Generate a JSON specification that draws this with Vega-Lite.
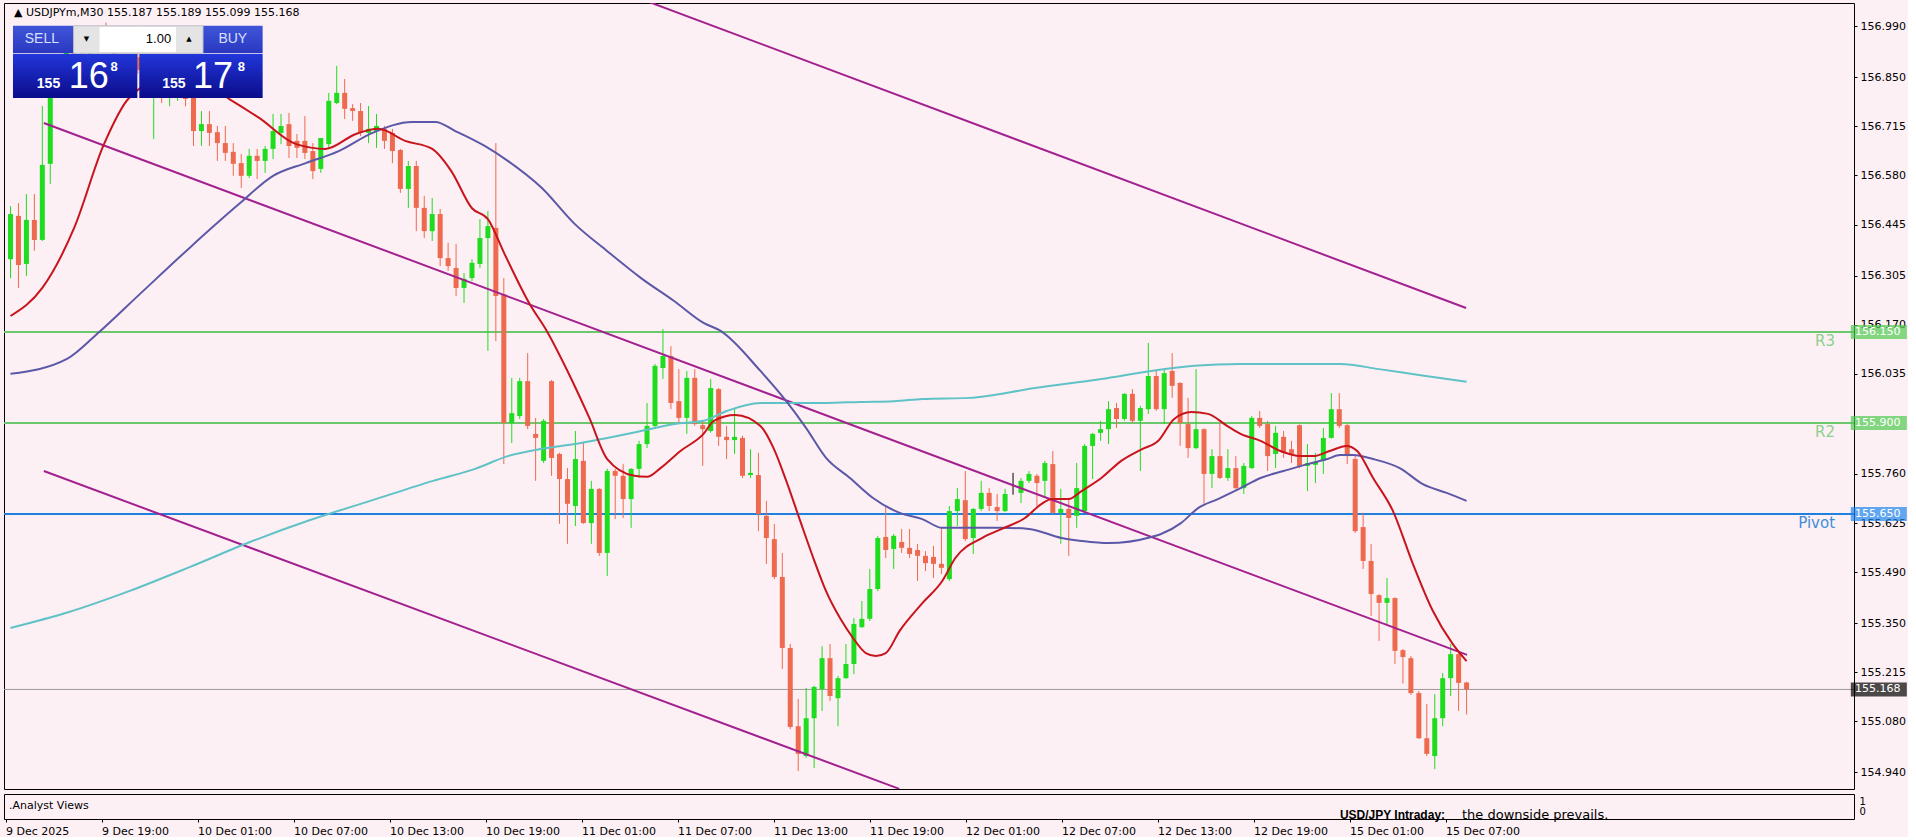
{
"$schema":"https://vega.github.io/schema/vega-lite/v6.json",
"background":"#FDF0F5",
"padding":{"left":2,"top":2,"right":0,"bottom":0},
"config":{"view":{"stroke":"#000000","strokeWidth":1,"fill":"#FDF0F5"},"bar":{"continuousBandSize":5},
"axis":{"labelFont":"DejaVu Sans","labelFontSize":11,"labelColor":"#000000","tickColor":"#000000","grid":false,"domain":false,"title":null}},
"datasets":{
"candles":[
{"i":0,"o":156.350,"h":156.496,"l":156.298,"c":156.474},
{"i":1,"o":156.469,"h":156.504,"l":156.271,"c":156.334},
{"i":2,"o":156.337,"h":156.529,"l":156.304,"c":156.458},
{"i":3,"o":156.458,"h":156.529,"l":156.373,"c":156.403},
{"i":4,"o":156.403,"h":156.771,"l":156.400,"c":156.609},
{"i":5,"o":156.612,"h":156.860,"l":156.557,"c":156.826},
{"i":6,"o":156.826,"h":156.900,"l":156.800,"c":156.880},
{"i":7,"o":156.880,"h":156.960,"l":156.860,"c":156.940},
{"i":8,"o":156.940,"h":156.990,"l":156.900,"c":156.915},
{"i":9,"o":156.915,"h":156.950,"l":156.870,"c":156.885},
{"i":10,"o":156.885,"h":156.935,"l":156.860,"c":156.920},
{"i":11,"o":156.920,"h":156.985,"l":156.905,"c":156.965},
{"i":12,"o":156.965,"h":157.000,"l":156.930,"c":156.945},
{"i":13,"o":156.945,"h":156.970,"l":156.890,"c":156.900},
{"i":14,"o":156.900,"h":156.935,"l":156.860,"c":156.875},
{"i":15,"o":156.875,"h":156.920,"l":156.850,"c":156.905},
{"i":16,"o":156.905,"h":156.930,"l":156.860,"c":156.870},
{"i":17,"o":156.870,"h":156.900,"l":156.800,"c":156.815},
{"i":18,"o":156.815,"h":156.860,"l":156.680,"c":156.840},
{"i":19,"o":156.840,"h":156.880,"l":156.779,"c":156.800},
{"i":20,"o":156.800,"h":156.850,"l":156.770,"c":156.830},
{"i":21,"o":156.830,"h":156.870,"l":156.785,"c":156.850},
{"i":22,"o":156.850,"h":156.870,"l":156.770,"c":156.790},
{"i":23,"o":156.800,"h":156.830,"l":156.661,"c":156.702},
{"i":24,"o":156.702,"h":156.757,"l":156.661,"c":156.721},
{"i":25,"o":156.721,"h":156.757,"l":156.661,"c":156.697},
{"i":26,"o":156.699,"h":156.716,"l":156.620,"c":156.669},
{"i":27,"o":156.669,"h":156.716,"l":156.620,"c":156.642},
{"i":28,"o":156.645,"h":156.669,"l":156.579,"c":156.612},
{"i":29,"o":156.614,"h":156.639,"l":156.546,"c":156.579},
{"i":30,"o":156.579,"h":156.653,"l":156.573,"c":156.634},
{"i":31,"o":156.634,"h":156.653,"l":156.570,"c":156.620},
{"i":32,"o":156.620,"h":156.661,"l":156.587,"c":156.653},
{"i":33,"o":156.653,"h":156.749,"l":156.625,"c":156.702},
{"i":34,"o":156.697,"h":156.749,"l":156.666,"c":156.716},
{"i":35,"o":156.721,"h":156.752,"l":156.628,"c":156.661},
{"i":36,"o":156.675,"h":156.694,"l":156.628,"c":156.656},
{"i":37,"o":156.675,"h":156.743,"l":156.625,"c":156.642},
{"i":38,"o":156.647,"h":156.669,"l":156.570,"c":156.592},
{"i":39,"o":156.598,"h":156.683,"l":156.587,"c":156.683},
{"i":40,"o":156.666,"h":156.807,"l":156.656,"c":156.785},
{"i":41,"o":156.779,"h":156.881,"l":156.776,"c":156.807},
{"i":42,"o":156.807,"h":156.845,"l":156.735,"c":156.763},
{"i":43,"o":156.765,"h":156.776,"l":156.730,"c":156.757},
{"i":44,"o":156.757,"h":156.779,"l":156.688,"c":156.697},
{"i":45,"o":156.697,"h":156.771,"l":156.669,"c":156.708},
{"i":46,"o":156.702,"h":156.749,"l":156.656,"c":156.716},
{"i":47,"o":156.708,"h":156.716,"l":156.653,"c":156.675},
{"i":48,"o":156.697,"h":156.708,"l":156.614,"c":156.647},
{"i":49,"o":156.650,"h":156.653,"l":156.532,"c":156.543},
{"i":50,"o":156.543,"h":156.620,"l":156.491,"c":156.606},
{"i":51,"o":156.606,"h":156.620,"l":156.427,"c":156.491},
{"i":52,"o":156.491,"h":156.524,"l":156.408,"c":156.427},
{"i":53,"o":156.427,"h":156.518,"l":156.400,"c":156.474},
{"i":54,"o":156.474,"h":156.488,"l":156.331,"c":156.353},
{"i":55,"o":156.353,"h":156.395,"l":156.318,"c":156.331},
{"i":56,"o":156.326,"h":156.392,"l":156.249,"c":156.271},
{"i":57,"o":156.271,"h":156.312,"l":156.230,"c":156.296},
{"i":58,"o":156.298,"h":156.350,"l":156.290,"c":156.340},
{"i":59,"o":156.337,"h":156.460,"l":156.326,"c":156.408},
{"i":60,"o":156.408,"h":156.482,"l":156.098,"c":156.441},
{"i":61,"o":156.436,"h":156.669,"l":156.125,"c":156.249},
{"i":62,"o":156.254,"h":156.298,"l":155.787,"c":155.900},
{"i":63,"o":155.900,"h":156.024,"l":155.845,"c":155.927},
{"i":64,"o":155.919,"h":156.024,"l":155.911,"c":156.015},
{"i":65,"o":156.015,"h":156.092,"l":155.883,"c":155.892},
{"i":66,"o":155.870,"h":155.914,"l":155.741,"c":155.859},
{"i":67,"o":155.796,"h":155.911,"l":155.790,"c":155.906},
{"i":68,"o":156.015,"h":156.018,"l":155.755,"c":155.804},
{"i":69,"o":155.815,"h":155.818,"l":155.623,"c":155.746},
{"i":70,"o":155.746,"h":155.776,"l":155.568,"c":155.678},
{"i":71,"o":155.672,"h":155.878,"l":155.617,"c":155.801},
{"i":72,"o":155.796,"h":155.845,"l":155.623,"c":155.625},
{"i":73,"o":155.625,"h":155.741,"l":155.568,"c":155.719},
{"i":74,"o":155.719,"h":155.721,"l":155.535,"c":155.543},
{"i":75,"o":155.543,"h":155.774,"l":155.480,"c":155.768},
{"i":76,"o":155.768,"h":155.774,"l":155.636,"c":155.755},
{"i":77,"o":155.755,"h":155.787,"l":155.639,"c":155.691},
{"i":78,"o":155.691,"h":155.776,"l":155.612,"c":155.774},
{"i":79,"o":155.774,"h":155.851,"l":155.749,"c":155.842},
{"i":80,"o":155.842,"h":155.955,"l":155.831,"c":155.892},
{"i":81,"o":155.892,"h":156.062,"l":155.886,"c":156.057},
{"i":82,"o":156.051,"h":156.158,"l":156.021,"c":156.084},
{"i":83,"o":156.084,"h":156.111,"l":155.938,"c":155.955},
{"i":84,"o":155.960,"h":156.048,"l":155.900,"c":155.914},
{"i":85,"o":155.914,"h":156.043,"l":155.870,"c":156.024},
{"i":86,"o":156.024,"h":156.048,"l":155.892,"c":155.897},
{"i":87,"o":155.894,"h":155.906,"l":155.782,"c":155.883},
{"i":88,"o":155.878,"h":156.021,"l":155.873,"c":155.996},
{"i":89,"o":155.993,"h":155.996,"l":155.837,"c":155.862},
{"i":90,"o":155.862,"h":155.892,"l":155.801,"c":155.853},
{"i":91,"o":155.853,"h":155.941,"l":155.815,"c":155.862},
{"i":92,"o":155.859,"h":155.865,"l":155.749,"c":155.755},
{"i":93,"o":155.757,"h":155.828,"l":155.749,"c":155.763},
{"i":94,"o":155.757,"h":155.818,"l":155.603,"c":155.650},
{"i":95,"o":155.645,"h":155.686,"l":155.513,"c":155.584},
{"i":96,"o":155.581,"h":155.623,"l":155.471,"c":155.477},
{"i":97,"o":155.477,"h":155.543,"l":155.224,"c":155.282},
{"i":98,"o":155.282,"h":155.293,"l":155.059,"c":155.065},
{"i":99,"o":155.067,"h":155.142,"l":154.944,"c":154.991},
{"i":100,"o":154.985,"h":155.172,"l":154.980,"c":155.089},
{"i":101,"o":155.089,"h":155.178,"l":154.952,"c":155.175},
{"i":102,"o":155.169,"h":155.287,"l":155.109,"c":155.254},
{"i":103,"o":155.254,"h":155.293,"l":155.136,"c":155.150},
{"i":104,"o":155.144,"h":155.205,"l":155.067,"c":155.199},
{"i":105,"o":155.199,"h":155.293,"l":155.197,"c":155.238},
{"i":106,"o":155.238,"h":155.364,"l":155.210,"c":155.348},
{"i":107,"o":155.339,"h":155.411,"l":155.337,"c":155.362},
{"i":108,"o":155.362,"h":155.499,"l":155.356,"c":155.444},
{"i":109,"o":155.444,"h":155.590,"l":155.438,"c":155.584},
{"i":110,"o":155.587,"h":155.672,"l":155.529,"c":155.551},
{"i":111,"o":155.554,"h":155.595,"l":155.499,"c":155.590},
{"i":112,"o":155.573,"h":155.609,"l":155.543,"c":155.557},
{"i":113,"o":155.557,"h":155.609,"l":155.529,"c":155.540},
{"i":114,"o":155.551,"h":155.568,"l":155.466,"c":155.535},
{"i":115,"o":155.535,"h":155.548,"l":155.493,"c":155.515},
{"i":116,"o":155.532,"h":155.562,"l":155.474,"c":155.513},
{"i":117,"o":155.513,"h":155.612,"l":155.485,"c":155.502},
{"i":118,"o":155.471,"h":155.672,"l":155.466,"c":155.658},
{"i":119,"o":155.658,"h":155.721,"l":155.617,"c":155.691},
{"i":120,"o":155.688,"h":155.768,"l":155.576,"c":155.581},
{"i":121,"o":155.584,"h":155.666,"l":155.540,"c":155.664},
{"i":122,"o":155.664,"h":155.741,"l":155.658,"c":155.708},
{"i":123,"o":155.708,"h":155.721,"l":155.658,"c":155.672},
{"i":124,"o":155.669,"h":155.705,"l":155.631,"c":155.658},
{"i":125,"o":155.658,"h":155.719,"l":155.655,"c":155.705},
{"i":126,"o":155.705,"h":155.763,"l":155.703,"c":155.705},
{"i":127,"o":155.708,"h":155.749,"l":155.680,"c":155.741},
{"i":128,"o":155.741,"h":155.768,"l":155.735,"c":155.760},
{"i":129,"o":155.755,"h":155.760,"l":155.666,"c":155.735},
{"i":130,"o":155.741,"h":155.796,"l":155.694,"c":155.790},
{"i":131,"o":155.787,"h":155.823,"l":155.650,"c":155.653},
{"i":132,"o":155.653,"h":155.719,"l":155.568,"c":155.664},
{"i":133,"o":155.664,"h":155.694,"l":155.535,"c":155.639},
{"i":134,"o":155.645,"h":155.790,"l":155.612,"c":155.721},
{"i":135,"o":155.658,"h":155.842,"l":155.653,"c":155.837},
{"i":136,"o":155.837,"h":155.873,"l":155.746,"c":155.870},
{"i":137,"o":155.873,"h":155.906,"l":155.851,"c":155.883},
{"i":138,"o":155.883,"h":155.960,"l":155.842,"c":155.938},
{"i":139,"o":155.941,"h":155.955,"l":155.886,"c":155.911},
{"i":140,"o":155.911,"h":155.982,"l":155.906,"c":155.980},
{"i":141,"o":155.980,"h":155.993,"l":155.900,"c":155.906},
{"i":142,"o":155.906,"h":155.947,"l":155.768,"c":155.941},
{"i":143,"o":155.938,"h":156.120,"l":155.925,"c":156.029},
{"i":144,"o":156.029,"h":156.043,"l":155.933,"c":155.938},
{"i":145,"o":155.938,"h":156.048,"l":155.897,"c":156.037},
{"i":146,"o":156.043,"h":156.092,"l":155.969,"c":156.002},
{"i":147,"o":156.010,"h":156.012,"l":155.837,"c":155.900},
{"i":148,"o":155.897,"h":155.969,"l":155.804,"c":155.831},
{"i":149,"o":155.831,"h":156.048,"l":155.828,"c":155.883},
{"i":150,"o":155.883,"h":155.885,"l":155.678,"c":155.760},
{"i":151,"o":155.760,"h":155.828,"l":155.721,"c":155.809},
{"i":152,"o":155.809,"h":155.900,"l":155.746,"c":155.749},
{"i":153,"o":155.749,"h":155.828,"l":155.741,"c":155.776},
{"i":154,"o":155.776,"h":155.809,"l":155.719,"c":155.721},
{"i":155,"o":155.721,"h":155.790,"l":155.705,"c":155.782},
{"i":156,"o":155.776,"h":155.919,"l":155.774,"c":155.914},
{"i":157,"o":155.914,"h":155.933,"l":155.886,"c":155.892},
{"i":158,"o":155.897,"h":155.906,"l":155.768,"c":155.809},
{"i":159,"o":155.815,"h":155.892,"l":155.776,"c":155.873},
{"i":160,"o":155.862,"h":155.878,"l":155.804,"c":155.818},
{"i":161,"o":155.828,"h":155.851,"l":155.790,"c":155.815},
{"i":162,"o":155.894,"h":155.896,"l":155.776,"c":155.782},
{"i":163,"o":155.782,"h":155.842,"l":155.713,"c":155.790},
{"i":164,"o":155.785,"h":155.818,"l":155.735,"c":155.793},
{"i":165,"o":155.796,"h":155.886,"l":155.760,"c":155.859},
{"i":166,"o":155.859,"h":155.982,"l":155.857,"c":155.938},
{"i":167,"o":155.938,"h":155.982,"l":155.886,"c":155.892},
{"i":168,"o":155.894,"h":155.897,"l":155.787,"c":155.809},
{"i":169,"o":155.801,"h":155.809,"l":155.598,"c":155.603},
{"i":170,"o":155.614,"h":155.653,"l":155.499,"c":155.521},
{"i":171,"o":155.521,"h":155.568,"l":155.370,"c":155.430},
{"i":172,"o":155.427,"h":155.430,"l":155.301,"c":155.406},
{"i":173,"o":155.406,"h":155.474,"l":155.348,"c":155.419},
{"i":174,"o":155.419,"h":155.421,"l":155.238,"c":155.274},
{"i":175,"o":155.276,"h":155.279,"l":155.184,"c":155.257},
{"i":176,"o":155.254,"h":155.260,"l":155.153,"c":155.158},
{"i":177,"o":155.158,"h":155.164,"l":155.032,"c":155.034},
{"i":178,"o":155.034,"h":155.128,"l":154.985,"c":154.991},
{"i":179,"o":154.985,"h":155.155,"l":154.949,"c":155.089},
{"i":180,"o":155.089,"h":155.213,"l":155.067,"c":155.199},
{"i":181,"o":155.199,"h":155.293,"l":155.150,"c":155.265},
{"i":182,"o":155.265,"h":155.268,"l":155.109,"c":155.186},
{"i":183,"o":155.187,"h":155.189,"l":155.099,"c":155.168}
],
"ma":[
{"s":"f","i":0,"v":156.194},{"s":"f","i":4,"v":156.271},{"s":"f","i":8,"v":156.436},{"s":"f","i":11.75,"v":156.666},{"s":"f","i":14.9,"v":156.793},{"s":"f","i":19.5,"v":156.845},{"s":"f","i":23.5,"v":156.840},{"s":"f","i":27.5,"v":156.790},{"s":"f","i":31.25,"v":156.738},{"s":"f","i":35.9,"v":156.666},{"s":"f","i":39.6,"v":156.653},{"s":"f","i":43.4,"v":156.694},{"s":"f","i":46.25,"v":156.708},{"s":"f","i":49.6,"v":156.675},{"s":"f","i":53,"v":156.653},{"s":"f","i":55.4,"v":156.592},{"s":"f","i":58,"v":156.490},{"s":"f","i":60,"v":156.460},{"s":"f","i":62.1,"v":156.364},{"s":"f","i":65.25,"v":156.227},{"s":"f","i":67.4,"v":156.153},{"s":"f","i":70,"v":156.043},{"s":"f","i":72.75,"v":155.914},{"s":"f","i":75,"v":155.801},{"s":"f","i":78.4,"v":155.755},{"s":"f","i":80,"v":155.752},{"s":"f","i":81.7,"v":155.776},{"s":"f","i":84.2,"v":155.823},{"s":"f","i":87.1,"v":155.870},{"s":"f","i":88.4,"v":155.906},{"s":"f","i":91.1,"v":155.922},{"s":"f","i":94.25,"v":155.892},{"s":"f","i":95.9,"v":155.831},{"s":"f","i":97.5,"v":155.741},{"s":"f","i":99.25,"v":155.631},{"s":"f","i":100.9,"v":155.529},{"s":"f","i":102.5,"v":155.438},{"s":"f","i":104.25,"v":155.364},{"s":"f","i":105.9,"v":155.309},{"s":"f","i":107.5,"v":155.268},{"s":"f","i":108.75,"v":155.260},{"s":"f","i":110,"v":155.268},{"s":"f","i":111.75,"v":155.329},{"s":"f","i":114.6,"v":155.405},{"s":"f","i":117.1,"v":155.466},{"s":"f","i":118.75,"v":155.529},{"s":"f","i":122.1,"v":155.584},{"s":"f","i":124.6,"v":155.609},{"s":"f","i":127.5,"v":155.639},{"s":"f","i":129.6,"v":155.678},{"s":"f","i":130.9,"v":155.691},{"s":"f","i":133,"v":155.691},{"s":"f","i":134.6,"v":155.713},{"s":"f","i":137.1,"v":155.749},{"s":"f","i":139.6,"v":155.796},{"s":"f","i":142.1,"v":155.827},{"s":"f","i":144.25,"v":155.851},{"s":"f","i":146.25,"v":155.911},{"s":"f","i":148.4,"v":155.930},{"s":"f","i":150.5,"v":155.925},{"s":"f","i":152.9,"v":155.892},{"s":"f","i":154.6,"v":155.870},{"s":"f","i":157.1,"v":155.851},{"s":"f","i":159.6,"v":155.823},{"s":"f","i":162.1,"v":155.809},{"s":"f","i":163.75,"v":155.809},{"s":"f","i":165.8,"v":155.823},{"s":"f","i":167.9,"v":155.837},{"s":"f","i":169.25,"v":155.823},{"s":"f","i":171.25,"v":155.749},{"s":"f","i":173.75,"v":155.658},{"s":"f","i":176.25,"v":155.513},{"s":"f","i":178.75,"v":155.384},{"s":"f","i":181.25,"v":155.293},{"s":"f","i":183,"v":155.246},
{"s":"b","i":0,"v":156.035},{"s":"b","i":7.1,"v":156.076},{"s":"b","i":10.9,"v":156.145},{"s":"b","i":16.25,"v":156.254},{"s":"b","i":22.5,"v":156.381},{"s":"b","i":28.75,"v":156.502},{"s":"b","i":33,"v":156.579},{"s":"b","i":37.1,"v":156.614},{"s":"b","i":41.25,"v":156.647},{"s":"b","i":45.5,"v":156.697},{"s":"b","i":50.5,"v":156.727},{"s":"b","i":53.4,"v":156.727},{"s":"b","i":55.9,"v":156.702},{"s":"b","i":59.6,"v":156.661},{"s":"b","i":62.5,"v":156.620},{"s":"b","i":66.75,"v":156.546},{"s":"b","i":70.9,"v":156.447},{"s":"b","i":75,"v":156.372},{"s":"b","i":79.25,"v":156.298},{"s":"b","i":83.4,"v":156.235},{"s":"b","i":87.1,"v":156.175},{"s":"b","i":89.25,"v":156.153},{"s":"b","i":94.25,"v":156.043},{"s":"b","i":97.5,"v":155.960},{"s":"b","i":100,"v":155.886},{"s":"b","i":102.5,"v":155.804},{"s":"b","i":105.5,"v":155.749},{"s":"b","i":108.4,"v":155.694},{"s":"b","i":111.75,"v":155.653},{"s":"b","i":114.6,"v":155.636},{"s":"b","i":117.1,"v":155.612},{"s":"b","i":124.6,"v":155.612},{"s":"b","i":128,"v":155.609},{"s":"b","i":132.1,"v":155.584},{"s":"b","i":134.6,"v":155.576},{"s":"b","i":138,"v":155.570},{"s":"b","i":143.4,"v":155.587},{"s":"b","i":144.6,"v":155.595},{"s":"b","i":147.1,"v":155.625},{"s":"b","i":149.25,"v":155.666},{"s":"b","i":151.75,"v":155.691},{"s":"b","i":154.6,"v":155.721},{"s":"b","i":157.1,"v":155.749},{"s":"b","i":160,"v":155.768},{"s":"b","i":163,"v":155.787},{"s":"b","i":165.5,"v":155.801},{"s":"b","i":167.1,"v":155.812},{"s":"b","i":168.75,"v":155.812},{"s":"b","i":171.25,"v":155.801},{"s":"b","i":174.6,"v":155.776},{"s":"b","i":177.5,"v":155.732},{"s":"b","i":180.5,"v":155.708},{"s":"b","i":183,"v":155.686},
{"s":"c","i":0,"v":155.337},{"s":"c","i":7.25,"v":155.380},{"s":"c","i":14.9,"v":155.438},{"s":"c","i":22.5,"v":155.504},{"s":"c","i":30.1,"v":155.573},{"s":"c","i":37.75,"v":155.634},{"s":"c","i":45.5,"v":155.688},{"s":"c","i":53.1,"v":155.741},{"s":"c","i":58.4,"v":155.774},{"s":"c","i":62.5,"v":155.809},{"s":"c","i":66.75,"v":155.829},{"s":"c","i":70.9,"v":155.842},{"s":"c","i":75,"v":155.859},{"s":"c","i":79.25,"v":155.878},{"s":"c","i":83.4,"v":155.897},{"s":"c","i":87.1,"v":155.906},{"s":"c","i":90,"v":155.933},{"s":"c","i":94.25,"v":155.955},{"s":"c","i":98.4,"v":155.955},{"s":"c","i":102.5,"v":155.955},{"s":"c","i":106.75,"v":155.958},{"s":"c","i":111,"v":155.960},{"s":"c","i":114.6,"v":155.966},{"s":"c","i":120.5,"v":155.969},{"s":"c","i":128.75,"v":155.996},{"s":"c","i":137.1,"v":156.021},{"s":"c","i":143.4,"v":156.043},{"s":"c","i":148.75,"v":156.057},{"s":"c","i":154.6,"v":156.062},{"s":"c","i":167.1,"v":156.062},{"s":"c","i":172,"v":156.048},{"s":"c","i":177,"v":156.032},{"s":"c","i":183,"v":156.013}
],
"channel":[
{"s":"u","i":78,"v":157.075},{"s":"u","i":182.94,"v":156.216},
{"s":"m","i":4.19,"v":156.724},{"s":"m","i":183.06,"v":155.263},
{"s":"l","i":4.19,"v":155.768},{"s":"l","i":111.7,"v":154.895}
],
"levels":[
{"p":156.15,"k":"R","lab":"R3","box":"156.150"},
{"p":155.9,"k":"R","lab":"R2","box":"155.900"},
{"p":155.65,"k":"P","lab":"Pivot","box":"155.650"},
{"p":155.168,"k":"C","lab":"","box":"155.168"}
],
"panel":[
{"part":"head","x1":0.3125,"x2":15.94,"y1":156.916,"y2":156.991},
{"part":"head","x1":16.19,"x2":31.69,"y1":156.916,"y2":156.991},
{"part":"price","x1":0.3125,"x2":15.94,"y1":156.793,"y2":156.914},
{"part":"price","x1":16.19,"x2":31.69,"y1":156.793,"y2":156.914},
{"part":"lot","x1":7.94,"x2":24.19,"y1":156.916,"y2":156.991},
{"part":"field","x1":11.19,"x2":20.81,"y1":156.919,"y2":156.988}
],
"ptext":[
{"role":"head","i":3.94,"p":156.955,"t":"SELL"},
{"role":"head","i":27.94,"p":156.955,"t":"BUY"},
{"role":"lot","i":20.19,"p":156.955,"t":"1.00"},
{"role":"arrow","i":9.56,"p":156.955,"t":"▼"},
{"role":"arrow","i":22.44,"p":156.955,"t":"▲"},
{"role":"small","i":3.31,"p":156.820,"t":"155"},
{"role":"small","i":19.06,"p":156.820,"t":"155"},
{"role":"big","i":7.31,"p":156.820,"t":"16"},
{"role":"big","i":22.94,"p":156.820,"t":"17"},
{"role":"sup","i":12.56,"p":156.878,"t":"8"},
{"role":"sup","i":28.56,"p":156.878,"t":"8"}
],
"header":[{"i":0.44,"p":157.025,"t":"▲ USDJPYm,M30  155.187 155.189 155.099 155.168"}],
"sub":[
{"k":"a","i":0.44,"v":0.5,"t":".Analyst Views"},
{"k":"b","i":166.8,"v":-0.75,"t":"USD/JPY Intraday:"},
{"k":"n","i":182.06,"v":-0.75,"t":"the downside prevails."}
]
},
"vconcat":[
{
"width":1850,"height":786,
"encoding":{
 "y":{"field":"p","type":"quantitative","scale":{"domain":[154.8945,157.0538],"nice":false,"zero":false},
  "axis":{"orient":"right","values":[156.99,156.85,156.715,156.58,156.445,156.305,156.17,156.035,155.76,155.625,155.49,155.35,155.215,155.08,154.94],"format":".3f","tickSize":3,"labelPadding":3,"zindex":0}}
},
"layer":[
{"data":{"name":"levels"},"transform":[{"filter":"datum.k=='R'"}],
 "mark":{"type":"rule","color":"#6CC86C","strokeWidth":2}},
{"data":{"name":"levels"},"transform":[{"filter":"datum.k=='P'"}],
 "mark":{"type":"rule","color":"#1F80DD","strokeWidth":2}},
{"data":{"name":"levels"},"transform":[{"filter":"datum.k=='C'"}],
 "mark":{"type":"rule","color":"#9A9A9A","strokeWidth":1}},
{"data":{"name":"candles"},
 "mark":{"type":"rule","strokeWidth":1},
 "encoding":{
  "x":{"field":"i","type":"quantitative","scale":{"domain":[-0.1875,231.0625],"nice":false,"zero":false},"axis":null},
  "y":{"field":"h","type":"quantitative"},
  "y2":{"field":"l"},
  "color":{"condition":[{"test":"datum.c == datum.o","value":"#000000"},{"test":"datum.c > datum.o","value":"#1EDD1E"}],"value":"#EE6A4E"}}},
{"data":{"name":"candles"},
 "mark":{"type":"bar","orient":"vertical","width":5},
 "encoding":{
  "x":{"field":"i","type":"quantitative","scale":{"domain":[-0.1875,231.0625],"nice":false,"zero":false},"axis":null},
  "y":{"field":"o","type":"quantitative"},
  "y2":{"field":"c"},
  "color":{"condition":[{"test":"datum.c == datum.o","value":"#000000"},{"test":"datum.c > datum.o","value":"#1EDD1E"}],"value":"#EE6A4E"}}},
{"data":{"name":"channel"},
 "mark":{"type":"line","color":"#A3218F","strokeWidth":2,"clip":true},
 "encoding":{"x":{"field":"i","type":"quantitative","scale":{"domain":[-0.1875,231.0625],"nice":false,"zero":false},"axis":null},
  "y":{"field":"v","type":"quantitative"},"detail":{"field":"s"}}},
{"data":{"name":"ma"},"transform":[{"filter":"datum.s=='c'"}],
 "mark":{"type":"line","color":"#5FC2C6","strokeWidth":2,"interpolate":"monotone"},
 "encoding":{"x":{"field":"i","type":"quantitative","scale":{"domain":[-0.1875,231.0625],"nice":false,"zero":false},"axis":null},
  "y":{"field":"v","type":"quantitative"}}},
{"data":{"name":"ma"},"transform":[{"filter":"datum.s=='b'"}],
 "mark":{"type":"line","color":"#5B58A8","strokeWidth":2,"interpolate":"monotone"},
 "encoding":{"x":{"field":"i","type":"quantitative","scale":{"domain":[-0.1875,231.0625],"nice":false,"zero":false},"axis":null},
  "y":{"field":"v","type":"quantitative"}}},
{"data":{"name":"ma"},"transform":[{"filter":"datum.s=='f'"}],
 "mark":{"type":"line","color":"#C8141C","strokeWidth":2,"interpolate":"monotone"},
 "encoding":{"x":{"field":"i","type":"quantitative","scale":{"domain":[-0.1875,231.0625],"nice":false,"zero":false},"axis":null},
  "y":{"field":"v","type":"quantitative"}}},
{"data":{"name":"levels"},"transform":[{"filter":"datum.lab != ''"}],
 "mark":{"type":"text","align":"right","baseline":"top","dy":2,"font":"DejaVu Sans","fontSize":15},
 "encoding":{"x":{"datum":229.31,"type":"quantitative","scale":{"domain":[-0.1875,231.0625],"nice":false,"zero":false},"axis":null},
  "text":{"field":"lab"},
  "color":{"condition":{"test":"datum.k=='P'","value":"#3D8ED9"},"value":"#8AD08A"}}},
{"data":{"name":"levels"},
 "mark":{"type":"tick","orient":"horizontal","size":56,"thickness":14},
 "encoding":{"x":{"datum":234.81,"type":"quantitative","scale":{"domain":[-0.1875,231.0625],"nice":false,"zero":false},"axis":null},
  "color":{"condition":[{"test":"datum.k=='P'","value":"#1E86EE"},{"test":"datum.k=='C'","value":"#000000"}],"value":"#4ECB4E"}}},
{"data":{"name":"levels"},
 "mark":{"type":"text","align":"left","baseline":"middle","font":"DejaVu Sans","fontSize":11,"color":"#FFFFFF"},
 "encoding":{"x":{"datum":231.81,"type":"quantitative","scale":{"domain":[-0.1875,231.0625],"nice":false,"zero":false},"axis":null},
  "text":{"field":"box"}}},
{"data":{"name":"header"},
 "mark":{"type":"text","align":"left","baseline":"middle","font":"DejaVu Sans","fontSize":11,"color":"#000000"},
 "encoding":{"x":{"field":"i","type":"quantitative","scale":{"domain":[-0.1875,231.0625],"nice":false,"zero":false},"axis":null},
  "text":{"field":"t"}}},
{"data":{"name":"panel"},"transform":[{"filter":"datum.part=='head'"}],
 "mark":{"type":"rect","fill":{"gradient":"linear","x1":0,"y1":0,"x2":0,"y2":1,"stops":[{"offset":0,"color":"#3F55D8"},{"offset":1,"color":"#2A38C0"}]}},
 "encoding":{"x":{"field":"x1","type":"quantitative","scale":{"domain":[-0.1875,231.0625],"nice":false,"zero":false},"axis":null},"x2":{"field":"x2"},"y":{"field":"y1","type":"quantitative"},"y2":{"field":"y2"}}},
{"data":{"name":"panel"},"transform":[{"filter":"datum.part=='price'"}],
 "mark":{"type":"rect","fill":{"gradient":"linear","x1":0,"y1":0,"x2":0,"y2":1,"stops":[{"offset":0,"color":"#2236DA"},{"offset":1,"color":"#0A0C8A"}]}},
 "encoding":{"x":{"field":"x1","type":"quantitative","scale":{"domain":[-0.1875,231.0625],"nice":false,"zero":false},"axis":null},"x2":{"field":"x2"},"y":{"field":"y1","type":"quantitative"},"y2":{"field":"y2"}}},
{"data":{"name":"panel"},"transform":[{"filter":"datum.part=='lot'"}],
 "mark":{"type":"rect","fill":"#E4E4E4","stroke":"#C8C8C8","strokeWidth":1},
 "encoding":{"x":{"field":"x1","type":"quantitative","scale":{"domain":[-0.1875,231.0625],"nice":false,"zero":false},"axis":null},"x2":{"field":"x2"},"y":{"field":"y1","type":"quantitative"},"y2":{"field":"y2"}}},
{"data":{"name":"panel"},"transform":[{"filter":"datum.part=='field'"}],
 "mark":{"type":"rect","fill":"#FFFFFF"},
 "encoding":{"x":{"field":"x1","type":"quantitative","scale":{"domain":[-0.1875,231.0625],"nice":false,"zero":false},"axis":null},"x2":{"field":"x2"},"y":{"field":"y1","type":"quantitative"},"y2":{"field":"y2"}}},
{"data":{"name":"ptext"},"transform":[{"filter":"datum.role=='head'"}],
 "mark":{"type":"text","align":"center","baseline":"middle","font":"Liberation Sans","fontSize":14,"color":"#D8E0FF"},
 "encoding":{"x":{"field":"i","type":"quantitative","scale":{"domain":[-0.1875,231.0625],"nice":false,"zero":false},"axis":null},"text":{"field":"t"}}},
{"data":{"name":"ptext"},"transform":[{"filter":"datum.role=='lot'"}],
 "mark":{"type":"text","align":"right","baseline":"middle","font":"Liberation Sans","fontSize":13,"color":"#000000"},
 "encoding":{"x":{"field":"i","type":"quantitative","scale":{"domain":[-0.1875,231.0625],"nice":false,"zero":false},"axis":null},"text":{"field":"t"}}},
{"data":{"name":"ptext"},"transform":[{"filter":"datum.role=='arrow'"}],
 "mark":{"type":"text","align":"center","baseline":"middle","font":"DejaVu Sans","fontSize":7,"color":"#000000"},
 "encoding":{"x":{"field":"i","type":"quantitative","scale":{"domain":[-0.1875,231.0625],"nice":false,"zero":false},"axis":null},"text":{"field":"t"}}},
{"data":{"name":"ptext"},"transform":[{"filter":"datum.role=='small'"}],
 "mark":{"type":"text","align":"left","baseline":"alphabetic","font":"Liberation Sans","fontSize":14,"fontWeight":"bold","color":"#FFFFFF"},
 "encoding":{"x":{"field":"i","type":"quantitative","scale":{"domain":[-0.1875,231.0625],"nice":false,"zero":false},"axis":null},"text":{"field":"t"}}},
{"data":{"name":"ptext"},"transform":[{"filter":"datum.role=='big'"}],
 "mark":{"type":"text","align":"left","baseline":"alphabetic","font":"Liberation Sans","fontSize":36,"color":"#FFFFFF"},
 "encoding":{"x":{"field":"i","type":"quantitative","scale":{"domain":[-0.1875,231.0625],"nice":false,"zero":false},"axis":null},"text":{"field":"t"}}},
{"data":{"name":"ptext"},"transform":[{"filter":"datum.role=='sup'"}],
 "mark":{"type":"text","align":"left","baseline":"middle","font":"Liberation Sans","fontSize":13,"fontWeight":"bold","color":"#FFFFFF"},
 "encoding":{"x":{"field":"i","type":"quantitative","scale":{"domain":[-0.1875,231.0625],"nice":false,"zero":false},"axis":null},"text":{"field":"t"}}}
]
},
{
"width":1850,"height":25,
"encoding":{
 "x":{"field":"i","type":"quantitative","scale":{"domain":[-0.1875,231.0625],"nice":false,"zero":false},
   "axis":{"orient":"bottom","values":[0,12,24,36,48,60,72,84,96,108,120,132,144,156,168,180],
   "labelExpr":"['9 Dec 2025','9 Dec 19:00','10 Dec 01:00','10 Dec 07:00','10 Dec 13:00','10 Dec 19:00','11 Dec 01:00','11 Dec 07:00','11 Dec 13:00','11 Dec 19:00','12 Dec 01:00','12 Dec 07:00','12 Dec 13:00','12 Dec 19:00','15 Dec 01:00','15 Dec 07:00'][round(datum.value/12)]",
   "tickSize":3,"labelAlign":"left","labelPadding":3,"labelBound":false}},
 "y":{"field":"v","type":"quantitative","scale":{"domain":[-0.8,1.7],"nice":false,"zero":false},
   "axis":{"orient":"right","values":[0,1],"format":"d","ticks":false,"labelFontSize":10,"labelPadding":5}},
 "text":{"field":"t"}
},
"layer":[
{"data":{"name":"sub"},"transform":[{"filter":"datum.k=='a'"}],
 "mark":{"type":"text","align":"left","baseline":"middle","font":"DejaVu Sans","fontSize":11,"color":"#000000"}},
{"data":{"name":"sub"},"transform":[{"filter":"datum.k=='b'"}],
 "mark":{"type":"text","align":"left","baseline":"alphabetic","font":"Liberation Sans","fontSize":12,"fontWeight":"bold","color":"#000000"}},
{"data":{"name":"sub"},"transform":[{"filter":"datum.k=='n'"}],
 "mark":{"type":"text","align":"left","baseline":"alphabetic","font":"DejaVu Sans","fontSize":13,"color":"#000000"}}
]
}
],
"spacing":3
}
